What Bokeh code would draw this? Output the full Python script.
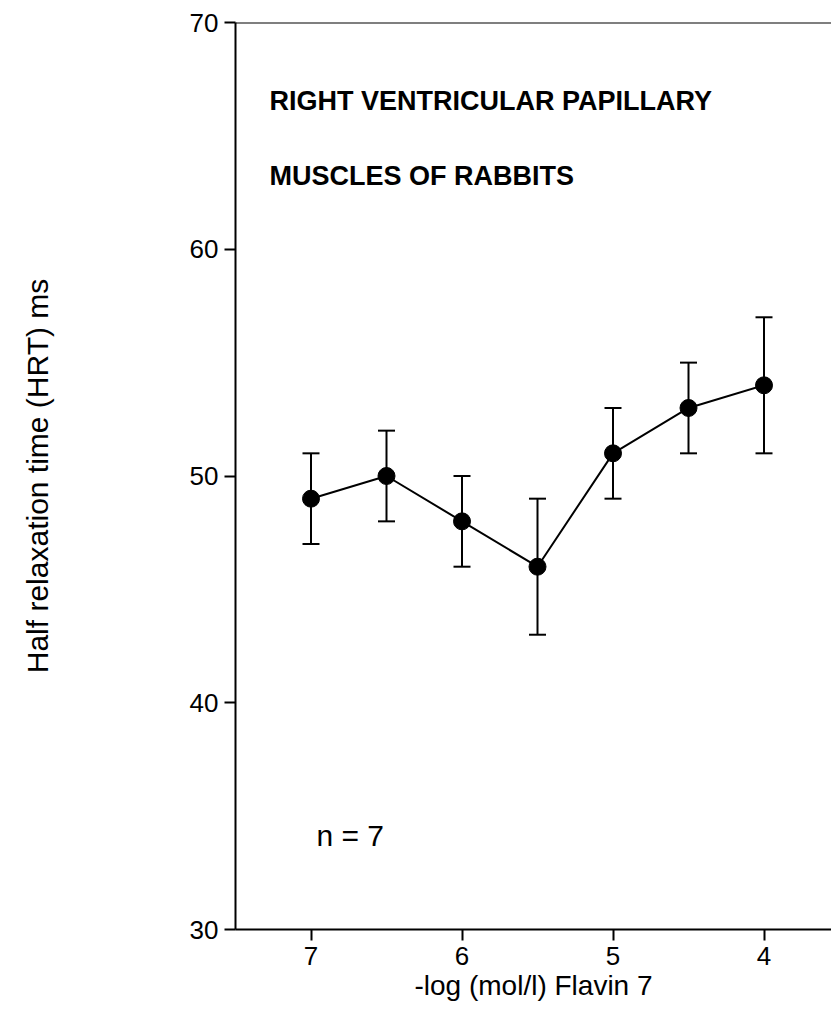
from bokeh.plotting import figure
from bokeh.models import Range1d, FixedTicker, Whisker, TeeHead, ColumnDataSource, Label, Span
from bokeh.embed import file_html
from bokeh.resources import INLINE

# Data
conc = [7.0, 6.5, 6.0, 5.5, 5.0, 4.5, 4.0]
hrt = [49, 50, 48, 46, 51, 53, 54]
err_low = [47, 48, 46, 43, 49, 51, 51]
err_high = [51, 52, 50, 49, 53, 55, 57]
x_ticks = [7, 6, 5, 4]
y_ticks = [30, 40, 50, 60, 70]
title_lines = ["RIGHT VENTRICULAR PAPILLARY", "MUSCLES OF RABBITS"]
note = "n = 7"
x_title = "-log (mol/l) Flavin 7"
y_title = "Half relaxation time (HRT) ms"

FONT = "Liberation Sans"

src = ColumnDataSource(data=dict(x=conc, y=hrt, lo=err_low, hi=err_high))

p = figure(width=831, height=1027, x_range=Range1d(7.5, 3.553), y_range=Range1d(30, 70),
           output_backend="svg", toolbar_location=None,
           min_border_left=235, min_border_top=22, min_border_bottom=98, min_border_right=0)
p.outline_line_color = None
p.xgrid.visible = False
p.ygrid.visible = False
p.background_fill_color = "white"
p.border_fill_color = "white"

for ax in (p.xaxis[0], p.yaxis[0]):
    ax.axis_line_width = 2
    ax.axis_line_color = "black"
    ax.major_tick_line_width = 2
    ax.major_tick_line_color = "black"
    ax.major_tick_out = 11
    ax.major_tick_in = 0
    ax.minor_tick_line_color = None
    ax.major_label_text_font = FONT
    ax.major_label_text_font_size = "26px"
    ax.major_label_text_color = "black"
    ax.axis_label_text_font = FONT
    ax.axis_label_text_font_size = "28px"
    ax.axis_label_text_font_style = "normal"
    ax.axis_label_text_color = "black"

p.xaxis.ticker = FixedTicker(ticks=x_ticks)
p.yaxis.ticker = FixedTicker(ticks=y_ticks)
p.xaxis.major_label_standoff = 6
p.yaxis.major_label_standoff = 6
p.xaxis.axis_label = x_title
p.xaxis.axis_label_standoff = 2
p.yaxis.axis_label = y_title
p.yaxis.axis_label_text_font_size = "30px"
p.yaxis.axis_label_standoff = 133

p.add_layout(Span(location=70, dimension="width", line_color="black", line_width=2))

w = Whisker(source=src, base="x", lower="lo", upper="hi", line_width=2, line_color="black",
            upper_head=TeeHead(size=17, line_width=2, line_color="black"),
            lower_head=TeeHead(size=17, line_width=2, line_color="black"))
p.add_layout(w)
p.line("x", "y", source=src, line_width=2, line_color="black")
p.scatter("x", "y", source=src, size=17, fill_color="black", line_color="black")

p.add_layout(Label(x=7.275, y=66.53, text=title_lines[0], text_font=FONT, text_font_size="27px",
                   text_font_style="bold", text_color="black", text_baseline="alphabetic"))
p.add_layout(Label(x=7.275, y=63.25, text=title_lines[1], text_font=FONT, text_font_size="27px",
                   text_font_style="bold", text_color="black", text_baseline="alphabetic"))
p.add_layout(Label(x=6.964, y=34.14, text=note, text_font=FONT, text_font_size="30px",
                   text_color="black", text_baseline="alphabetic"))

open("out.html", "w").write(file_html(p, INLINE))
